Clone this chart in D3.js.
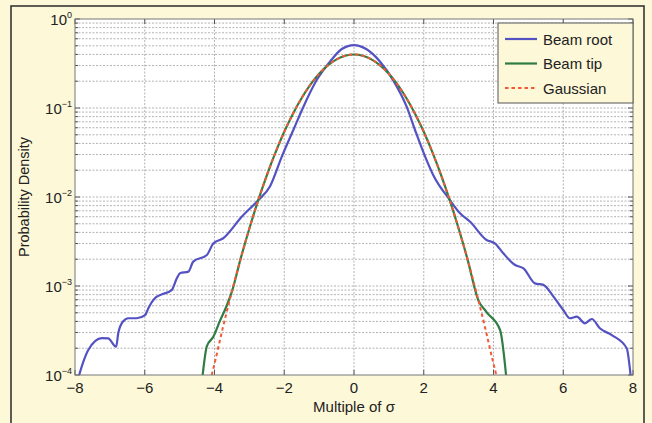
<!DOCTYPE html>
<html>
<head>
<meta charset="utf-8">
<script src="https://cdn.jsdelivr.net/npm/d3@7"></script>
<style>
  html, body { margin: 0; padding: 0; background: #fdf8d8; }
  svg { display: block; font-family: "Liberation Sans", Arial, sans-serif; }
</style>
</head>
<body>
<div id="chart"></div>
<script>
// x positions (multiples of sigma) and densities
const rootX = [-7.88, -7.76, -7.62, -7.23, -7.05, -6.82, -6.76, -6.63, -6.47, -6.23,
  -5.99, -5.9, -5.71, -5.56, -5.23, -5.08, -4.99, -4.75, -4.61, -4.22, -4.03, -3.75,
  -3.22, -2.74, -2.41, -2.07, -1.74, -1.45, -1.07, -0.69, -0.35, 0, 0.35, 0.75, 1.12,
  1.51, 1.75, 2.04, 2.27, 2.75, 3.04, 3.33, 3.8, 4.04, 4.28, 4.62, 4.86, 5.19, 5.43,
  5.72, 6.0, 6.19, 6.39, 6.62, 6.82, 7.05, 7.39, 7.82, 7.93];
const rootY = [1e-4, 1.41e-4, 1.91e-4, 2.6e-4, 2.58e-4, 2.08e-4, 2.94e-4, 3.97e-4, 4.34e-4, 4.34e-4,
  4.7e-4, 5.6e-4, 7.3e-4, 7.9e-4, 9.0e-4, 1.22e-3, 1.39e-3, 1.45e-3, 1.88e-3, 2.23e-3, 3.02e-3, 3.44e-3,
  6.0e-3, 9.25e-3, 1.31e-2, 2.84e-2, 5.66e-2, 1.035e-1, 2.06e-1, 3.31e-1, 4.6e-1, 0.51, 4.6e-1, 3.31e-1, 2.06e-1,
  1.035e-1, 5.66e-2, 2.84e-2, 1.77e-2, 9.25e-3, 6.56e-3, 5.27e-3, 3.29e-3, 3.02e-3, 2.33e-3, 1.72e-3, 1.58e-3, 1.07e-3, 1.03e-3,
  7.6e-4, 5.37e-4, 4.34e-4, 4.52e-4, 3.81e-4, 4.26e-4, 3.35e-4, 2.81e-4, 2.0e-4, 1e-4];

const tipX = [-4.34, -4.22, -4.03, -3.85, -3.65, -3.5, -3.25, -3, -2.75, -2.5, -2.25, -2, -1.75,
  -1.5, -1.25, -1, -0.75, -0.5, -0.25, 0, 0.25, 0.5, 0.75, 1, 1.25, 1.5, 1.75, 2, 2.25,
  2.5, 2.75, 3, 3.25, 3.56, 3.8, 4.19, 4.36];
const tipY = [1e-4, 2.1e-4, 2.7e-4, 4.0e-4, 6.0e-4, 8.7e-4, 2.03e-3, 4.43e-3, 9.09e-3, 1.75e-2, 3.17e-2, 5.4e-2, 8.63e-2,
  0.1295, 0.1826, 0.242, 0.3011, 0.3521, 0.3867, 0.3989, 0.3867, 0.3521, 0.3011, 0.242, 0.1826, 0.1295, 8.63e-2, 5.4e-2, 3.17e-2,
  1.75e-2, 9.09e-3, 4.43e-3, 2.03e-3, 7.0e-4, 5.1e-4, 3.2e-4, 1e-4];

const gaussX = [-4.08, -4, -3.75, -3.5, -3.25, -3, -2.75, -2.5, -2.25, -2, -1.75, -1.5, -1.25,
  -1, -0.75, -0.5, -0.25, 0, 0.25, 0.5, 0.75, 1, 1.25, 1.5, 1.75, 2, 2.25, 2.5, 2.75,
  3, 3.25, 3.5, 3.75, 4, 4.08];
const gaussY = [1e-4, 1.34e-4, 3.53e-4, 8.73e-4, 2.03e-3, 4.43e-3, 9.09e-3, 1.75e-2, 3.17e-2, 5.4e-2, 8.63e-2, 0.1295, 0.1826,
  0.242, 0.3011, 0.3521, 0.3867, 0.3989, 0.3867, 0.3521, 0.3011, 0.242, 0.1826, 0.1295, 8.63e-2, 5.4e-2, 3.17e-2, 1.75e-2, 9.09e-3,
  4.43e-3, 2.03e-3, 8.73e-4, 3.53e-4, 1.34e-4, 1e-4];

const xTicks = [-8, -6, -4, -2, 0, 2, 4, 6, 8];
const yExponents = [0, -1, -2, -3, -4];
const legendNames = ["Beam root", "Beam tip", "Gaussian"];
const colors = ["#5452c2", "#2f7d42", "#f25a36"];

const width = 652, height = 423;
const pL = 75, pR = 633, pT = 19, pB = 375;

const svg = d3.select("#chart")
  .append("svg")
  .attr("width", width)
  .attr("height", height);

// outer frame
svg.append("rect")
  .attr("x", 11).attr("y", 6)
  .attr("width", 633).attr("height", 430)
  .attr("fill", "#fdf8d8")
  .attr("stroke", "#2a2a2a")
  .attr("stroke-width", 1.5);

const x = d3.scaleLinear().domain([-8, 8]).range([pL, pR]);
const y = d3.scaleLog().domain([1e-4, 1]).range([pB, pT]);

// plot background
svg.append("rect")
  .attr("x", pL).attr("y", pT)
  .attr("width", pR - pL).attr("height", pB - pT)
  .attr("fill", "#fff");

// grid values, major and minor
const gridVals = [];
for (let e = -4; e < 0; e++) {
  for (let k = 1; k <= 9; k++) gridVals.push(k * Math.pow(10, e));
}

const grid = svg.append("g")
  .attr("stroke", "#a0a0a0")
  .attr("stroke-width", 0.8)
  .attr("stroke-dasharray", "2,1.5");

grid.selectAll("line.h")
  .data(gridVals.filter(v => v > 1e-4))
  .enter()
  .append("line")
  .attr("x1", pL).attr("x2", pR)
  .attr("y1", d => y(d)).attr("y2", d => y(d));

grid.selectAll("line.v")
  .data(xTicks.slice(1, -1))
  .enter()
  .append("line")
  .attr("y1", pT).attr("y2", pB)
  .attr("x1", d => x(d)).attr("x2", d => x(d));

// tick marks, inward on all four sides
const ticks = svg.append("g").attr("stroke", "#555").attr("stroke-width", 1);
gridVals.concat([1]).forEach(v => {
  const major = Math.abs(Math.log10(v) - Math.round(Math.log10(v))) < 1e-9;
  const len = major ? 5 : 3;
  ticks.append("line").attr("x1", pL).attr("x2", pL + len).attr("y1", y(v)).attr("y2", y(v));
  ticks.append("line").attr("x1", pR).attr("x2", pR - len).attr("y1", y(v)).attr("y2", y(v));
});
xTicks.forEach(v => {
  ticks.append("line").attr("x1", x(v)).attr("x2", x(v)).attr("y1", pB).attr("y2", pB - 5);
  ticks.append("line").attr("x1", x(v)).attr("x2", x(v)).attr("y1", pT).attr("y2", pT + 5);
});

// curves
svg.append("clipPath").attr("id", "clip")
  .append("rect")
  .attr("x", pL).attr("y", pT)
  .attr("width", pR - pL).attr("height", pB - pT);

const line = d3.line()
  .x(d => x(d[0]))
  .y(d => y(d[1]))
  .curve(d3.curveMonotoneX);

const curves = svg.append("g").attr("clip-path", "url(#clip)").attr("fill", "none");

curves.append("path")
  .attr("d", line(d3.zip(rootX, rootY)))
  .attr("stroke", colors[0])
  .attr("stroke-width", 2.2);

curves.append("path")
  .attr("d", line(d3.zip(tipX, tipY)))
  .attr("stroke", colors[1])
  .attr("stroke-width", 2.2);

curves.append("path")
  .attr("d", line(d3.zip(gaussX, gaussY)))
  .attr("stroke", colors[2])
  .attr("stroke-width", 2)
  .attr("stroke-dasharray", "3.5,3");

// axes box
svg.append("rect")
  .attr("x", pL).attr("y", pT)
  .attr("width", pR - pL).attr("height", pB - pT)
  .attr("fill", "none")
  .attr("stroke", "#777")
  .attr("stroke-width", 1);

// tick labels
svg.append("g")
  .selectAll("text")
  .data(xTicks)
  .enter()
  .append("text")
  .attr("x", d => x(d))
  .attr("y", pB + 18)
  .attr("text-anchor", "middle")
  .attr("font-size", 15)
  .attr("fill", "#222")
  .text(d => d < 0 ? "\u2212" + Math.abs(d) : d);

const yl = svg.append("g").attr("fill", "#222");
yExponents.forEach(e => {
  const t = yl.append("text")
    .attr("x", pL - 3)
    .attr("y", y(Math.pow(10, e)) + 6)
    .attr("font-size", 15);
  t.append("tspan").text("10");
  t.append("tspan")
    .attr("font-size", 9)
    .attr("dy", -7)
    .text(e === 0 ? "0" : "\u2212" + Math.abs(e));
  // superscript hangs past the anchor, so right-align the whole label by width
  const w = t.node().getComputedTextLength();
  t.attr("x", pL - 3 - w);
});

// axis titles
svg.append("text")
  .attr("x", (pL + pR) / 2)
  .attr("y", 412)
  .attr("text-anchor", "middle")
  .attr("font-size", 15)
  .attr("fill", "#222")
  .text("Multiple of \u03c3");

svg.append("text")
  .attr("transform", `translate(29, ${(pT + pB) / 2}) rotate(-90)`)
  .attr("text-anchor", "middle")
  .attr("font-size", 14.5)
  .attr("fill", "#222")
  .text("Probability Density");

// legend
const legend = svg.append("g");
legend.append("rect")
  .attr("x", 498).attr("y", 23)
  .attr("width", 135).attr("height", 80)
  .attr("fill", "#fdf8d8")
  .attr("stroke", "#555")
  .attr("stroke-width", 1);

legendNames.forEach((name, i) => {
  const ly = 39 + i * 24.5;
  legend.append("line")
    .attr("x1", 505).attr("x2", 537)
    .attr("y1", ly).attr("y2", ly)
    .attr("stroke", colors[i])
    .attr("stroke-width", i === 2 ? 2 : 2.2)
    .attr("stroke-dasharray", i === 2 ? "3.5,3" : null);
  legend.append("text")
    .attr("x", 543)
    .attr("y", ly + 5.5)
    .attr("font-size", 15)
    .attr("fill", "#222")
    .text(name);
});
</script>
</body>
</html>
